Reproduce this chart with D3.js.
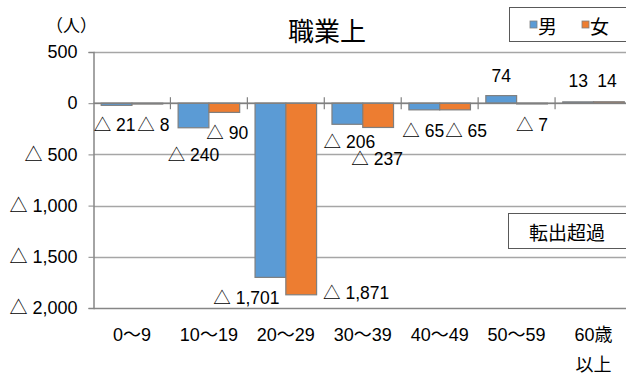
<!DOCTYPE html>
<html>
<head>
<meta charset="utf-8">
<script src="https://cdn.jsdelivr.net/npm/d3@7/dist/d3.min.js"></script>
<style>
  html, body { margin: 0; padding: 0; background: #fff; }
  svg { display: block; }
  text { fill: #000; }
</style>
</head>
<body>
<svg id="chart" width="626" height="376"></svg>
<script>
// 年齢階級別の転入・転出（職業上）
const categories = ["0〜9", "10〜19", "20〜29", "30〜39", "40〜49", "50〜59", "60歳\n以上"];
const seriesNames = ["男", "女"];
const maleValues = [-21, -240, -1701, -206, -65, 74, 13];
const femaleValues = [-8, -90, -1871, -237, -65, -7, 14];
const yTicks = [500, 0, -500, -1000, -1500, -2000];

const colors = { "男": "#5B9BD5", "女": "#ED7D31" };
const numFont = "'Liberation Sans', Arial, 'Noto Sans CJK JP', sans-serif";
const jpFont = "'Noto Sans CJK JP', sans-serif";

// label nudges per series/category (dx, dy from the bar's end)
const labelNudge = {
  "男": [[-2, 20], [0, 27], [-24, 21], [2, 18], [-1, 21], [0, -20], [0, -21]],
  "女": [[6, 21], [3, 21], [55, -2], [-1, 32], [11, 21], [0, 21], [-2, -21]]
};

const svg = d3.select("#chart");
const plot = { left: 93.5, right: 632, top: 52, bottom: 308 };

const x0 = d3.scaleBand().domain(categories).range([plot.left, plot.right]).padding(0);
const x1 = d3.scaleBand().domain(seriesNames)
  .range([x0.bandwidth() * 0.1, x0.bandwidth() * 0.9]).padding(0);
const y = d3.scaleLinear().domain([-2000, 500]).range([plot.bottom, plot.top]);

const fmt = v => v < 0 ? "△ " + d3.format(",")(-v) : d3.format(",")(v);

// horizontal gridlines
svg.append("g").selectAll("line").data(yTicks).join("line")
  .attr("x1", plot.left).attr("x2", plot.right)
  .attr("y1", d => Math.round(y(d)) + 0.5).attr("y2", d => Math.round(y(d)) + 0.5)
  .attr("stroke", d => d === -2000 ? "#868686" : "#A6A6A6")
  .attr("stroke-width", 1.5);

// y axis
const yAxis = d3.axisLeft(y).tickValues(yTicks).tickSize(5).tickFormat(fmt);
const gy = svg.append("g").attr("transform", `translate(${plot.left},0)`).call(yAxis);
gy.select(".domain").attr("stroke", "#868686").attr("stroke-width", 1.5);
gy.selectAll(".tick line").attr("stroke", "#868686");
gy.selectAll(".tick text")
  .attr("x", -16)
  .attr("font-family", numFont).attr("font-size", 18).attr("fill", "#000");

// bars
const rows = categories.map((c, i) => ({ cat: c, i, values: [
  { s: "男", v: maleValues[i] }, { s: "女", v: femaleValues[i] }
]}));

const groups = svg.append("g").selectAll("g").data(rows).join("g")
  .attr("transform", d => `translate(${x0(d.cat)},0)`);

groups.selectAll("rect").data(d => d.values).join("rect")
  .attr("x", d => x1(d.s))
  .attr("width", x1.bandwidth())
  .attr("y", d => y(Math.max(0, d.v)))
  .attr("height", d => Math.max(0.5, Math.abs(y(d.v) - y(0))))
  .attr("fill", d => colors[d.s])
  .attr("stroke", "#7F7F7F").attr("stroke-width", 1.2);

// zero line with category ticks
svg.append("line")
  .attr("x1", plot.left).attr("x2", plot.right)
  .attr("y1", y(0)).attr("y2", y(0))
  .attr("stroke", "#808080").attr("stroke-width", 1.5);
svg.append("g").selectAll("line").data(categories.slice(1)).join("line")
  .attr("x1", d => x0(d)).attr("x2", d => x0(d))
  .attr("y1", y(0) - 6).attr("y2", y(0) + 6)
  .attr("stroke", "#808080").attr("stroke-width", 1.2);

// data labels
groups.selectAll("text.val").data(d => d.values.map(v => ({ ...v, i: d.i }))).join("text")
  .attr("class", "val")
  .attr("x", d => x1(d.s) + x1.bandwidth() / 2 + labelNudge[d.s][d.i][0])
  .attr("y", d => y(d.v) + labelNudge[d.s][d.i][1])
  .attr("text-anchor", "middle").attr("dominant-baseline", "central")
  .attr("font-family", numFont).attr("font-size", 17.5)
  .text(d => fmt(d.v));

// category labels
svg.append("g").selectAll("text").data(categories).join("text")
  .attr("y", 335)
  .attr("text-anchor", "middle").attr("dominant-baseline", "central")
  .attr("font-family", numFont).attr("font-size", 18)
  .each(function (d) {
    const t = d3.select(this);
    d.split("\n").forEach((line, k) => {
      t.append("tspan").attr("x", x0(d) + x0.bandwidth() / 2).attr("dy", k === 0 ? 0 : 30)
        .text(line);
    });
  });

// title and unit
svg.append("text").attr("x", 327).attr("y", 29)
  .attr("text-anchor", "middle").attr("dominant-baseline", "central")
  .attr("font-family", jpFont).attr("font-size", 26).text("職業上");
svg.append("text").attr("x", 46).attr("y", 24)
  .attr("dominant-baseline", "central")
  .attr("font-family", jpFont).attr("font-size", 17).text("（人）");

// legend
const legend = svg.append("g");
legend.append("rect").attr("x", 509.5).attr("y", 7.5).attr("width", 130).attr("height", 34)
  .attr("fill", "#fff").attr("stroke", "#595959").attr("stroke-width", 1);
const lx = [530, 582];
seriesNames.forEach((s, k) => {
  legend.append("rect").attr("x", lx[k]).attr("y", 21).attr("width", 7).attr("height", 7)
    .attr("fill", colors[s]).attr("stroke", "#7F7F7F").attr("stroke-width", 0.8);
  legend.append("text").attr("x", lx[k] + 8).attr("y", 25)
    .attr("dominant-baseline", "central")
    .attr("font-family", jpFont).attr("font-size", 19).text(s);
});

// annotation box
svg.append("rect").attr("x", 508.5).attr("y", 213.5).attr("width", 130).attr("height", 35)
  .attr("fill", "#fff").attr("stroke", "#595959").attr("stroke-width", 1);
svg.append("text").attr("x", 567).attr("y", 231)
  .attr("text-anchor", "middle").attr("dominant-baseline", "central")
  .attr("font-family", jpFont).attr("font-size", 19).text("転出超過");
</script>
</body>
</html>
